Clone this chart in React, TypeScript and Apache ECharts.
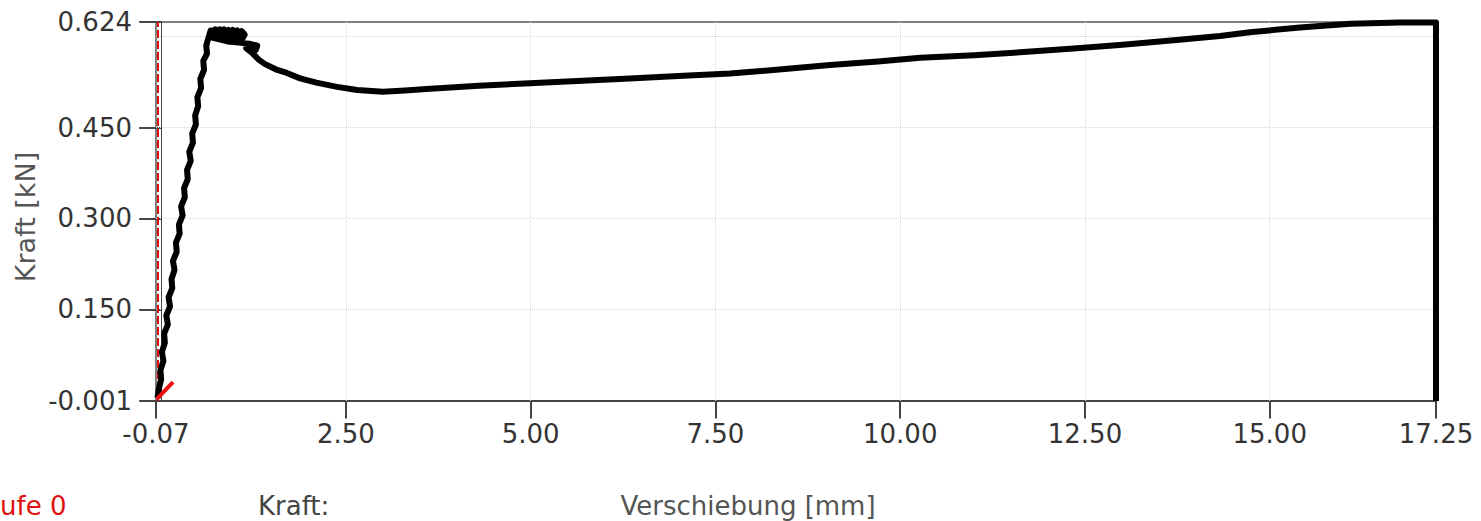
import React, { useEffect, useRef } from "react";
import * as echarts from "echarts";

const xTickValues = [-0.07, 2.5, 5, 7.5, 10, 12.5, 15, 17.25];
const yTickValues = [-0.001, 0.15, 0.3, 0.45, 0.624];
const xGridValues = [2.5, 5, 7.5, 10, 12.5, 15];
const yGridValues = [0.15, 0.3, 0.45, 0.6];

// Verschiebung [mm], Kraft [kN]
const kraftCurve: [number, number][] = [
  [-0.05, 0.004], [-0.03, 0.02], [0.0, 0.035], [-0.01, 0.05], [0.03, 0.065], [0.01, 0.08],
  [0.05, 0.095], [0.04, 0.11], [0.09, 0.125], [0.07, 0.14], [0.12, 0.155], [0.1, 0.17],
  [0.15, 0.185], [0.14, 0.2], [0.18, 0.215], [0.16, 0.23], [0.21, 0.245], [0.2, 0.26],
  [0.25, 0.275], [0.24, 0.29], [0.29, 0.305], [0.27, 0.32], [0.32, 0.335], [0.31, 0.35],
  [0.36, 0.365], [0.35, 0.38], [0.4, 0.395], [0.38, 0.41], [0.43, 0.425], [0.42, 0.44],
  [0.47, 0.455], [0.46, 0.47], [0.5, 0.485], [0.49, 0.5], [0.54, 0.515], [0.53, 0.53],
  [0.58, 0.545], [0.57, 0.56], [0.62, 0.572], [0.61, 0.585], [0.64, 0.598],
  [0.67, 0.61], [0.7, 0.604], [0.73, 0.612], [0.76, 0.605], [0.79, 0.612], [0.82, 0.604],
  [0.85, 0.612], [0.88, 0.605], [0.91, 0.611], [0.94, 0.604], [0.97, 0.611], [1.0, 0.605],
  [1.03, 0.61], [1.06, 0.604], [1.09, 0.609], [1.13, 0.603], [1.1, 0.597], [1.06, 0.6],
  [1.02, 0.596], [0.98, 0.6], [0.94, 0.596], [0.9, 0.6], [0.86, 0.596], [0.82, 0.6],
  [0.78, 0.597], [0.74, 0.6], [0.7, 0.598], [0.9, 0.592], [1.05, 0.59], [1.2, 0.588],
  [1.3, 0.585], [1.28, 0.578], [1.15, 0.581], [1.24, 0.572], [1.32, 0.562], [1.4, 0.555],
  [1.55, 0.546], [1.7, 0.54], [1.88, 0.531], [2.1, 0.524], [2.38, 0.517], [2.65, 0.512],
  [3.0, 0.509], [3.3, 0.511], [3.64, 0.514], [4.3, 0.519], [4.99, 0.523], [5.7, 0.527],
  [6.34, 0.531], [7.0, 0.535], [7.7, 0.539], [8.4, 0.546], [9.05, 0.553], [9.7, 0.559],
  [10.27, 0.565], [11.0, 0.569], [11.62, 0.574], [12.3, 0.58], [12.97, 0.586], [13.7, 0.594],
  [14.33, 0.601], [14.73, 0.607], [15.41, 0.615], [16.09, 0.621], [16.76, 0.623],
  [17.25, 0.623], [17.25, -0.001],
];

const vorkraft: [number, number][] = [
  [-0.06, 0.002],
  [0.16, 0.03],
];

const markerX = -0.05;

const FONT = "DejaVu Sans";

export default function App() {
  const ref = useRef<HTMLDivElement>(null);
  useEffect(() => {
    if (!ref.current) return;
    const chart = echarts.init(ref.current, undefined, { renderer: "svg" });
    const gridLine = { color: "#d8d8d8", width: 1, type: "dotted" as const };
    chart.setOption({
      animation: false,
      backgroundColor: "#ffffff",
      grid: {
        left: 156,
        right: 45,
        top: 22,
        bottom: 120,
        show: true,
        borderColor: "#000",
        borderWidth: 1,
        backgroundColor: "transparent",
      },
      xAxis: {
        type: "value",
        min: -0.07,
        max: 17.25,
        axisLine: { show: true, lineStyle: { color: "#444", width: 2 } },
        axisTick: { show: true, length: 18, customValues: xTickValues, lineStyle: { color: "#444", width: 2 } },
        axisLabel: {
          customValues: xTickValues,
          formatter: (v: number) => v.toFixed(2),
          color: "#333",
          fontFamily: FONT,
          fontSize: 26,
          margin: 20,
        },
        splitLine: { show: false },
      },
      yAxis: {
        type: "value",
        min: -0.001,
        max: 0.624,
        axisLine: { show: true, lineStyle: { color: "#444", width: 1 } },
        axisTick: { show: true, length: 22, customValues: yTickValues, lineStyle: { color: "#444", width: 2 } },
        axisLabel: {
          customValues: yTickValues,
          formatter: (v: number) => v.toFixed(3),
          color: "#333",
          fontFamily: FONT,
          fontSize: 26,
          margin: 24,
        },
        splitLine: { show: false },
      },
      series: [
        {
          type: "line",
          data: [],
          silent: true,
          markLine: {
            silent: true,
            symbol: "none",
            label: { show: false },
            lineStyle: gridLine,
            data: [
              ...xGridValues.map((v) => ({ xAxis: v })),
              ...yGridValues.map((v) => ({ yAxis: v })),
            ],
          },
        },
        {
          type: "line",
          data: [],
          silent: true,
          markLine: {
            silent: true,
            symbol: "none",
            label: { show: false },
            lineStyle: { color: "#e01010", width: 2, type: [8, 3] },
            data: [{ xAxis: markerX }],
          },
        },
        {
          name: "Kraft",
          type: "line",
          data: kraftCurve,
          showSymbol: false,
          smooth: false,
          lineStyle: { color: "#000", width: 6, join: "round", cap: "butt" },
          z: 5,
        },
        {
          name: "Vorkraft",
          type: "line",
          data: vorkraft,
          showSymbol: false,
          lineStyle: { color: "#ee1111", width: 4 },
          z: 6,
        },
      ],
      graphic: [
        {
          type: "text",
          x: 25,
          y: 217,
          rotation: Math.PI / 2,
          style: {
            text: "Kraft [kN]",
            fill: "#555",
            font: `27px "${FONT}"`,
            align: "center",
            verticalAlign: "middle",
          },
        },
        {
          type: "text",
          x: 748,
          y: 506,
          style: {
            text: "Verschiebung [mm]",
            fill: "#555",
            font: `26px "${FONT}"`,
            align: "center",
            verticalAlign: "middle",
          },
        },
        {
          type: "text",
          x: 258,
          y: 506,
          style: {
            text: "Kraft:",
            fill: "#444",
            font: `26px "${FONT}"`,
            align: "left",
            verticalAlign: "middle",
          },
        },
        {
          type: "text",
          x: 0,
          y: 506,
          style: {
            text: "ufe 0",
            fill: "#e01010",
            font: `26px "${FONT}"`,
            align: "left",
            verticalAlign: "middle",
          },
        },
      ],
    });
    return () => chart.dispose();
  }, []);
  return (
    <div
      ref={ref}
      style={{ position: "absolute", left: 0, top: 0, width: 1481, height: 521 }}
    />
  );
}
